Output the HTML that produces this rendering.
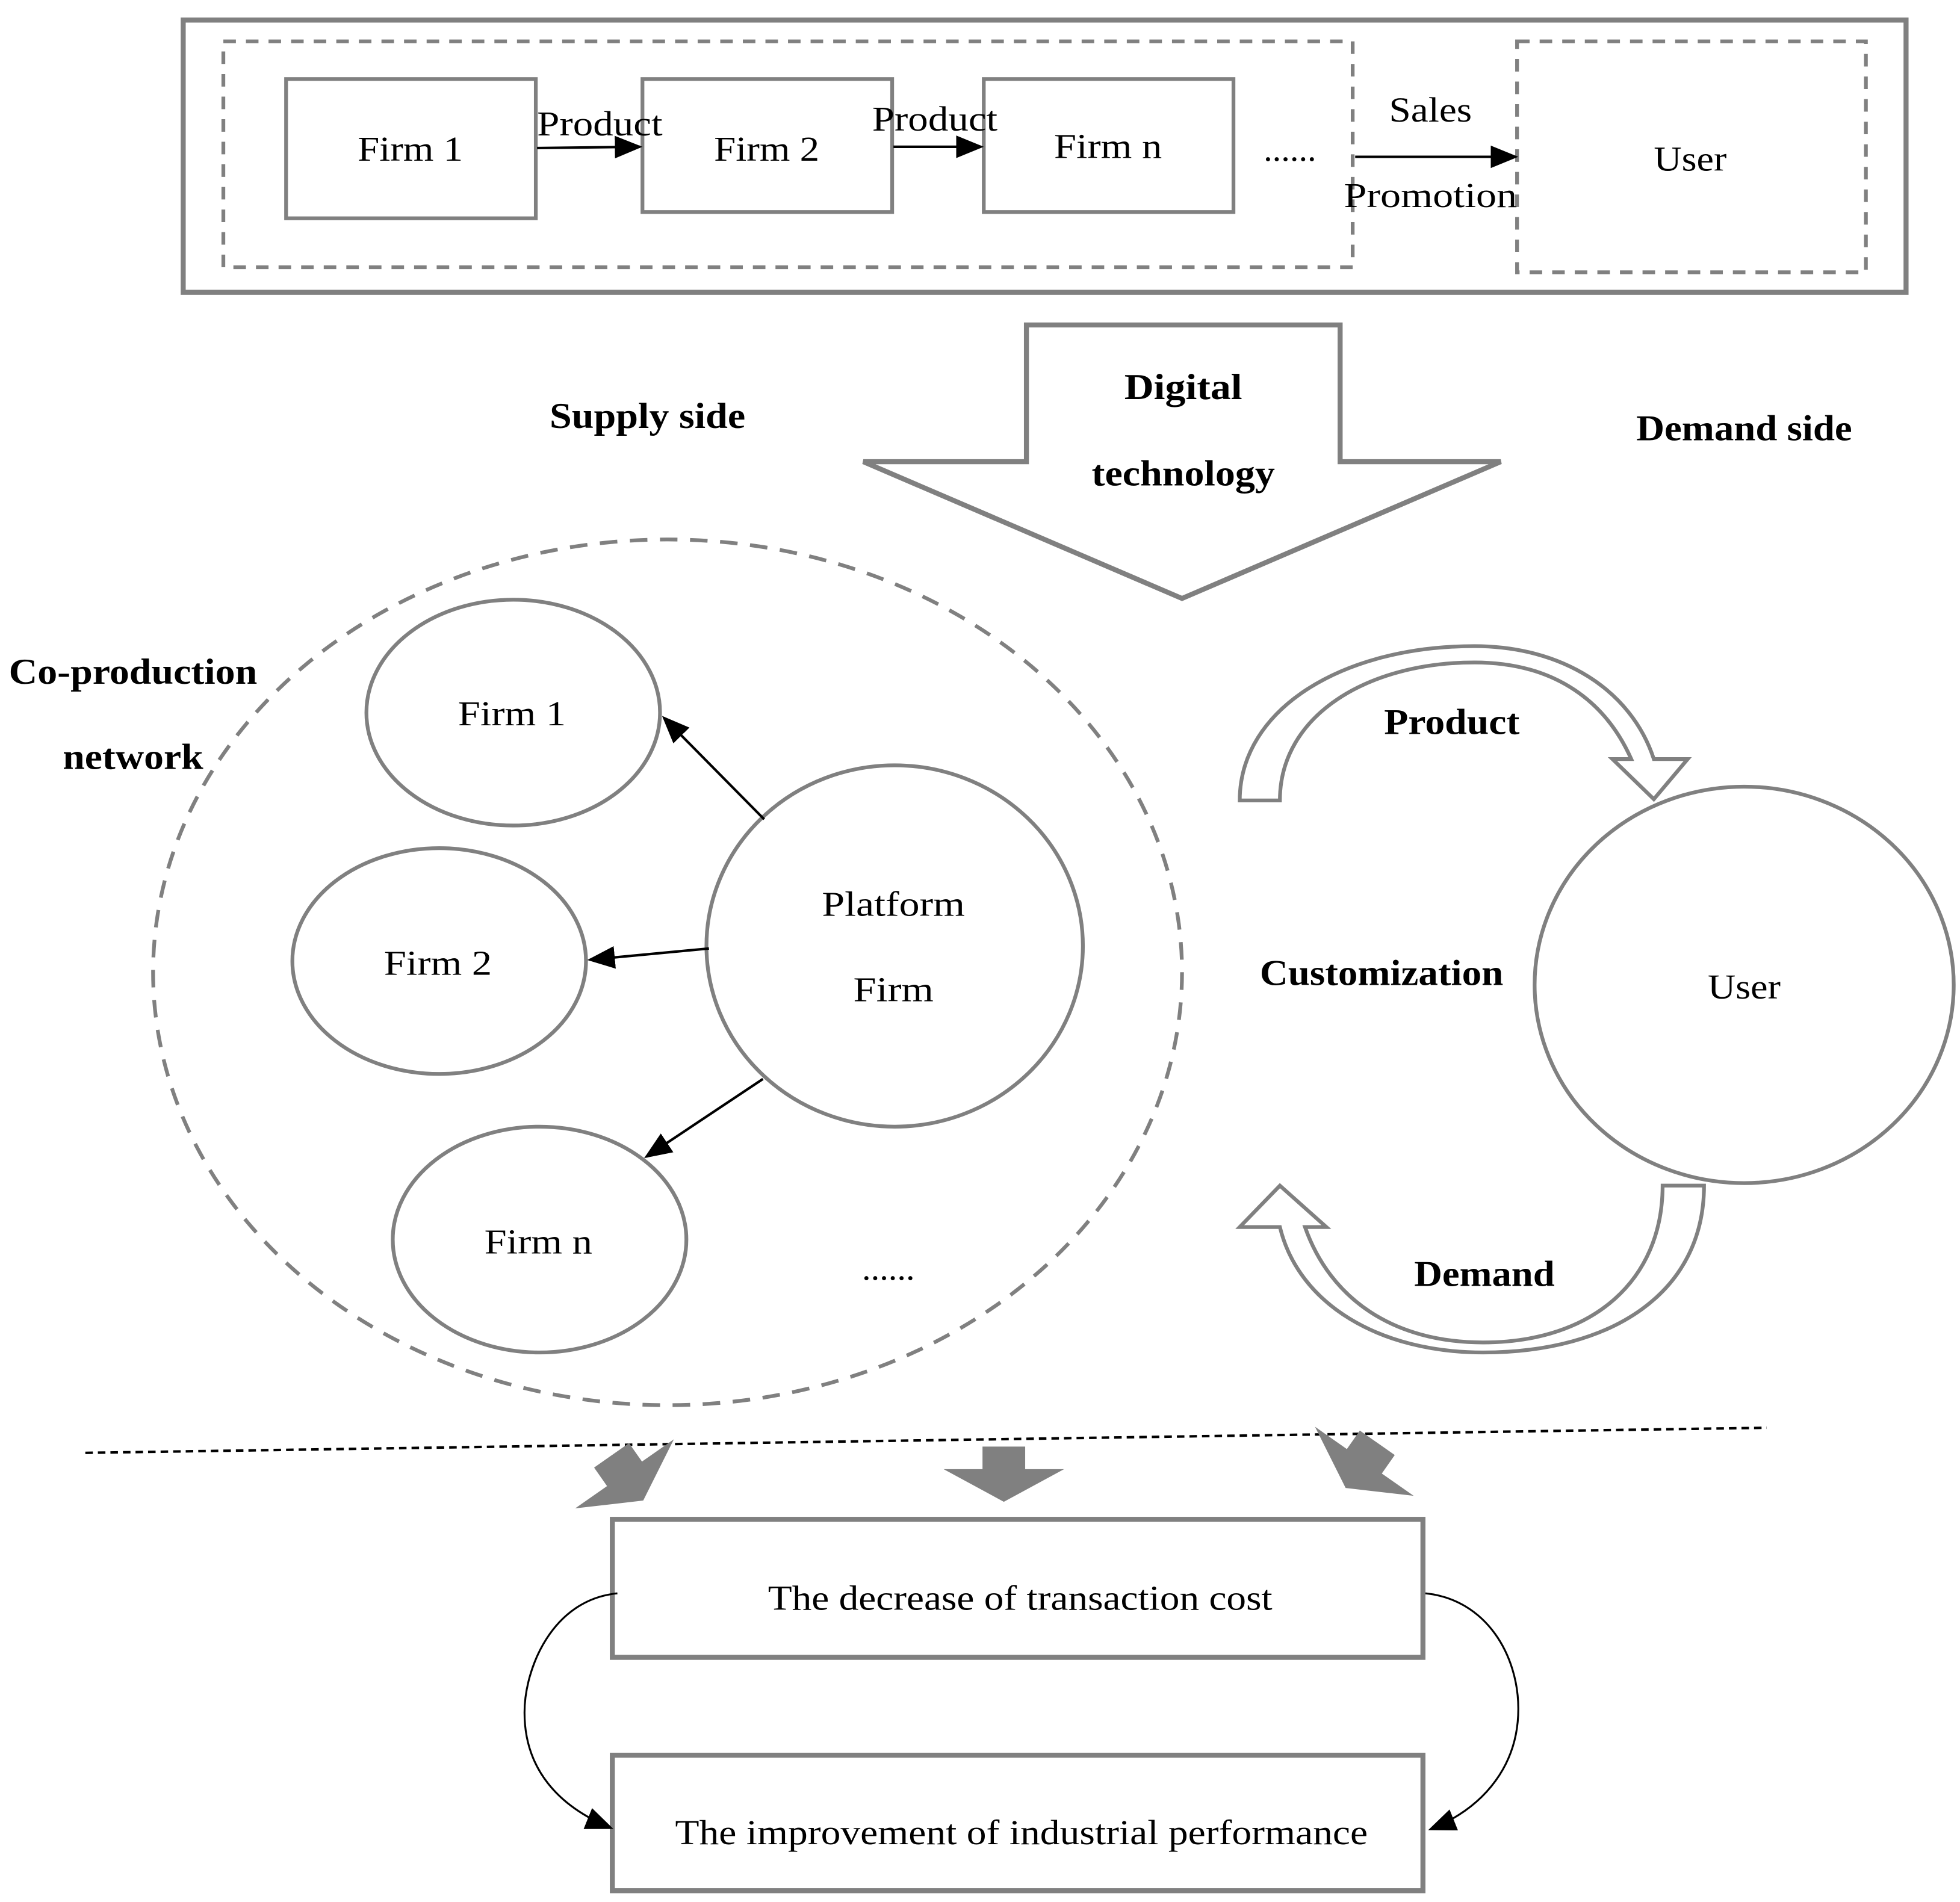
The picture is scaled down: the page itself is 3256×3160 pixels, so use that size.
<!DOCTYPE html>
<html><head><meta charset="utf-8"><style>html,body{margin:0;padding:0;background:#fff}svg{display:block}</style></head>
<body>
<svg width="3256" height="3160" viewBox="0 0 1562 1516" preserveAspectRatio="none" xmlns="http://www.w3.org/2000/svg" font-family="Liberation Serif, serif">
<defs>
<marker id="ah2" markerWidth="22" markerHeight="22" refX="20" refY="11" orient="auto" markerUnits="userSpaceOnUse" viewBox="0 0 22 22"><path d="M0,2 L22,11 L0,20 Z" fill="#000"/></marker>
</defs>
<g fill="none" stroke="#808080">
<rect x="146" y="16" width="1373" height="217" stroke-width="4"/>
<rect x="178" y="33" width="900" height="180" stroke-width="3" stroke-dasharray="10,8"/>
<rect x="1209" y="33" width="278" height="184" stroke-width="3" stroke-dasharray="10,8"/>
<rect x="228" y="63" width="199" height="111" stroke-width="3"/>
<rect x="512" y="63" width="199" height="106" stroke-width="3"/>
<rect x="784" y="63" width="199" height="106" stroke-width="3"/>
</g>
<g stroke="#000" stroke-width="2">
<line x1="428" y1="118" x2="510" y2="117" marker-end="url(#ah2)"/>
<line x1="712" y1="117" x2="782" y2="117" marker-end="url(#ah2)"/>
<line x1="1080" y1="125" x2="1208" y2="125" marker-end="url(#ah2)"/>
</g>
<g font-size="28" fill="#000" text-anchor="middle">
<text x="327" y="128" textLength="84" lengthAdjust="spacingAndGlyphs">Firm 1</text>
<text x="611" y="128" textLength="84" lengthAdjust="spacingAndGlyphs">Firm 2</text>
<text x="883" y="126" textLength="86" lengthAdjust="spacingAndGlyphs">Firm n</text>
<text x="478" y="108" textLength="100" lengthAdjust="spacingAndGlyphs">Product</text>
<text x="745" y="104" textLength="100" lengthAdjust="spacingAndGlyphs">Product</text>
<text x="1140" y="97" textLength="66" lengthAdjust="spacingAndGlyphs">Sales</text>
<text x="1140" y="165" textLength="138" lengthAdjust="spacingAndGlyphs">Promotion</text>
<text x="1347" y="136" textLength="58" lengthAdjust="spacingAndGlyphs">User</text>
<text x="1028" y="128">......</text>
</g>
<path d="M818,259 L1068,259 L1068,368 L1196,368 L942,477 L688,368 L818,368 Z" fill="none" stroke="#808080" stroke-width="4"/>
<g font-size="29" font-weight="bold" fill="#000" text-anchor="middle">
<text x="943" y="318" textLength="94" lengthAdjust="spacingAndGlyphs">Digital</text>
<text x="943" y="387" textLength="146" lengthAdjust="spacingAndGlyphs">technology</text>
<text x="516" y="341" textLength="156" lengthAdjust="spacingAndGlyphs">Supply side</text>
<text x="1390" y="351" textLength="172" lengthAdjust="spacingAndGlyphs">Demand side</text>
<text x="106" y="545" textLength="198" lengthAdjust="spacingAndGlyphs">Co-production</text>
<text x="106" y="613" textLength="112" lengthAdjust="spacingAndGlyphs">network</text>
<text x="1157" y="585" textLength="108" lengthAdjust="spacingAndGlyphs">Product</text>
<text x="1101" y="785" textLength="194" lengthAdjust="spacingAndGlyphs">Customization</text>
<text x="1183" y="1025" textLength="112" lengthAdjust="spacingAndGlyphs">Demand</text>
</g>
<ellipse cx="532" cy="775" rx="410" ry="345" fill="none" stroke="#808080" stroke-width="3" stroke-dasharray="14,10"/>
<g fill="none" stroke="#808080" stroke-width="3">
<ellipse cx="409" cy="568" rx="117" ry="90"/>
<ellipse cx="350" cy="766" rx="117" ry="90"/>
<ellipse cx="430" cy="988" rx="117" ry="90"/>
<ellipse cx="713" cy="754" rx="150" ry="144"/>
<ellipse cx="1390" cy="785" rx="167" ry="158"/>
</g>
<g stroke="#000" stroke-width="2">
<line x1="609" y1="653" x2="529" y2="572" marker-end="url(#ah2)"/>
<line x1="565" y1="756" x2="470" y2="765" marker-end="url(#ah2)"/>
<line x1="608" y1="860" x2="515" y2="922" marker-end="url(#ah2)"/>
</g>
<g font-size="28" fill="#000" text-anchor="middle">
<text x="408" y="578" textLength="86" lengthAdjust="spacingAndGlyphs">Firm 1</text>
<text x="349" y="777" textLength="86" lengthAdjust="spacingAndGlyphs">Firm 2</text>
<text x="429" y="999" textLength="86" lengthAdjust="spacingAndGlyphs">Firm n</text>
<text x="712" y="730" textLength="114" lengthAdjust="spacingAndGlyphs">Platform</text>
<text x="712" y="798" textLength="64" lengthAdjust="spacingAndGlyphs">Firm</text>
<text x="1390" y="796" textLength="58" lengthAdjust="spacingAndGlyphs">User</text>
<text x="708" y="1020">......</text>
</g>
<path d="M988,638 C988,565 1070,515 1175,515 C1245,515 1300,550 1318,605 L1345,605 L1318,637 L1285,605 L1300,605 C1280,560 1240,528 1175,528 C1090,528 1020,570 1020,638 Z" fill="none" stroke="#808080" stroke-width="3"/>
<path d="M1358,945 C1358,1030 1285,1078 1182,1078 C1100,1078 1035,1040 1020,978 L988,978 L1020,945 L1057,978 L1040,978 C1060,1035 1110,1070 1182,1070 C1270,1070 1325,1020 1325,945 Z" fill="none" stroke="#808080" stroke-width="3"/>
<line x1="68" y1="1158" x2="1408" y2="1138" stroke="#000" stroke-width="2" stroke-dasharray="6,4"/>
<g fill="#808080">
<path transform="translate(500,1178) rotate(-35)" d="M-17,-22 L17,-22 L17,-4 L48,-4 L0,22 L-48,-4 L-17,-4 Z"/>
<path transform="translate(800,1175)" d="M-17,-22 L17,-22 L17,-4 L48,-4 L0,22 L-48,-4 L-17,-4 Z"/>
<path transform="translate(1085,1168) rotate(35)" d="M-17,-22 L17,-22 L17,-4 L48,-4 L0,22 L-48,-4 L-17,-4 Z"/>
</g>
<g fill="none" stroke="#808080" stroke-width="4">
<rect x="488" y="1211" width="646" height="110"/>
<rect x="488" y="1399" width="646" height="108"/>
</g>
<g font-size="28" fill="#000" text-anchor="middle">
<text x="813" y="1283" textLength="402" lengthAdjust="spacingAndGlyphs">The decrease of transaction cost</text>
<text x="814" y="1470" textLength="552" lengthAdjust="spacingAndGlyphs">The improvement of industrial performance</text>
</g>
<g fill="none" stroke="#000" stroke-width="1.5">
<path d="M492,1270 C440,1275 418,1330 418,1365 C418,1410 445,1440 487,1457" marker-end="url(#ah2)"/>
<path d="M1136,1270 C1185,1275 1210,1320 1210,1362 C1210,1405 1185,1440 1140,1458" marker-end="url(#ah2)"/>
</g>
</svg>
</body></html>
